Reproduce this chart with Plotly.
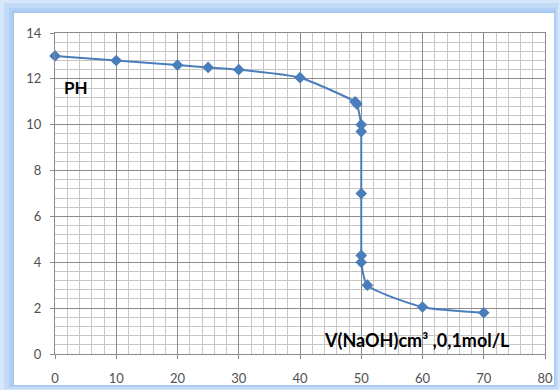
import plotly.graph_objects as go

# Data
volume_naoh = [0, 10, 20, 25, 30, 40, 49, 49.3, 50, 50, 50, 50, 50, 51, 60, 70]
ph_values = [13.0, 12.8, 12.6, 12.5, 12.4, 12.05, 11.0, 10.9, 10.0, 9.7, 7.0, 4.3, 4.0, 3.0, 2.05, 1.8]

x_ticks = [0, 10, 20, 30, 40, 50, 60, 70, 80]
y_ticks = [0, 2, 4, 6, 8, 10, 12, 14]

W, H = 560, 390
L, R, T, B = 55, 15, 33, 36
pw, ph = W - L - R, H - T - B


def px2paper(x, y):
    return (x - L) / pw, (H - B - y) / ph


fig = go.Figure()
fig.add_trace(go.Scatter(
    x=volume_naoh, y=ph_values, mode="lines+markers",
    line=dict(color="#4a7ebb", width=2, shape="spline", smoothing=0.6),
    marker=dict(symbol="diamond", size=9, color="#4a7ebb"),
    showlegend=False, hoverinfo="x+y", cliponaxis=False,
))

shapes = []
# glow frame layers
layers = [(0, 0, 560, 390, "#d6e6fb"), (4, 3, 558, 389, "#c3daf7"),
          (9, 8, 556, 387, "#b2cff4"), (12, 11, 555, 386, "#a6c7f1")]
for x0, y0, x1, y1, c in layers:
    a0, b0 = px2paper(x0, y1)
    a1, b1 = px2paper(x1, y0)
    shapes.append(dict(type="rect", xref="paper", yref="paper", x0=a0, y0=b0, x1=a1, y1=b1,
                       fillcolor=c, line=dict(width=0), layer="below"))
a0, b0 = px2paper(14, 385)
a1, b1 = px2paper(554, 13)
shapes.append(dict(type="rect", xref="paper", yref="paper", x0=a0, y0=b0, x1=a1, y1=b1,
                   fillcolor="white", line=dict(width=0), layer="below"))

fig.update_layout(
    width=W, height=H,
    margin=dict(l=L, r=R, t=T, b=B, autoexpand=False),
    paper_bgcolor="#d6e6fb", plot_bgcolor="rgba(0,0,0,0)",
    shapes=shapes,
    font=dict(family="Lato, Liberation Sans, sans-serif", size=13, color="#505050"),
    xaxis=dict(range=[0, 80], tickvals=x_ticks, showgrid=True, gridcolor="#8c8c8c", gridwidth=1,
               minor=dict(dtick=2, showgrid=True, gridcolor="#c6c6c6", gridwidth=1),
               showline=True, linecolor="#8c8c8c", ticks="outside", ticklen=4, tickcolor="#8c8c8c",
               ticklabelstandoff=8, automargin=False,
               zeroline=False, mirror=True, fixedrange=True),
    yaxis=dict(range=[0, 14], tickvals=y_ticks, showgrid=True, gridcolor="#8c8c8c", gridwidth=1,
               minor=dict(dtick=0.4, showgrid=True, gridcolor="#c6c6c6", gridwidth=1),
               showline=True, linecolor="#8c8c8c", ticks="outside", ticklen=4, tickcolor="#8c8c8c",
               ticklabelstandoff=6, automargin=False,
               zeroline=False, mirror=True, fixedrange=True),
    annotations=[
        dict(text="<b>PH</b>", xref="paper", yref="paper", x=px2paper(62, 0)[0], y=px2paper(0, 87)[1],
             xanchor="left", yanchor="middle", showarrow=False,
             font=dict(size=17, color="#000000", family="Lato, Liberation Sans, sans-serif")),
        dict(text="<b>V(NaOH)cm³ ,0,1mol/L</b>", xref="paper", yref="paper",
             x=px2paper(322, 0)[0], y=px2paper(0, 340)[1],
             xanchor="left", yanchor="middle", showarrow=False,
             font=dict(size=18, color="#000000", family="Lato, Liberation Sans, sans-serif")),
    ],
)

fig.write_html("out.html", config={"displayModeBar": False},
               post_script="document.body.style.margin='0';document.body.style.overflow='hidden';")
